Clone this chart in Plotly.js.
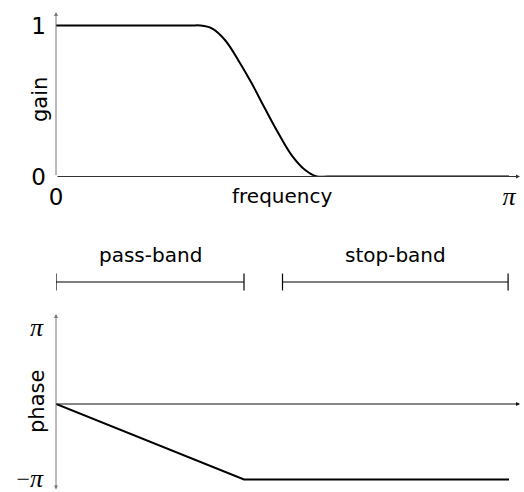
<!DOCTYPE html>
<html>
<head>
<meta charset="utf-8">
<script src="https://cdn.plot.ly/plotly-3.0.1.min.js"></script>
<style>html,body{margin:0;padding:0;background:#fff;}#chart{width:524px;height:492px;}</style>
</head>
<body>
<div id="chart"></div>
<script>
// frequency in units of pi
var gainFreq = [0, 0.15, 0.26, 0.30, 0.318, 0.344, 0.373, 0.402, 0.432, 0.461, 0.491, 0.520, 0.550, 0.576, 0.60, 0.66, 0.80, 1.0];
var gainVals = [1, 1, 1, 1, 1, 0.981, 0.904, 0.772, 0.617, 0.452, 0.286, 0.142, 0.043, 0, 0, 0, 0, 0];
// phase in units of pi
var phaseFreq = [0, 0.415, 1.0];
var phaseVals = [0, -1, -1];
// bands
var bandNames = ['pass-band', 'stop-band'];
var bandStart = [0, 0.5];
var bandEnd = [0.415, 0.998];
// tick labels
var PI = '<span style="font-family:Liberation Serif;font-style:italic;font-size:26px">π</span>';
var MINUS = '<span style="font-family:Liberation Serif;font-size:24px">−</span>';
var gainTickVals = [0, 1];
var gainTickText = ['0', '1'];
var freqTickVals = [0, 1];
var freqTickText = ['0', PI];
var phaseTickVals = [-1, 1];
var phaseTickText = [MINUS + PI, PI];

var SANS = 'DejaVu Sans';
var W = 524, H = 492;
function py(p) { return 1 - p / H; }

var traces = [
  {x: gainFreq, y: gainVals, xaxis: 'x', yaxis: 'y', mode: 'lines',
   line: {color: '#000', width: 2, shape: 'spline', smoothing: 1}, hoverinfo: 'skip'},
  {x: phaseFreq, y: phaseVals, xaxis: 'x2', yaxis: 'y2', mode: 'lines',
   line: {color: '#000', width: 2}, hoverinfo: 'skip'}
];
for (var i = 0; i < bandNames.length; i++) {
  traces.push({x: [bandStart[i], bandEnd[i]], y: [0, 0], xaxis: 'x2', yaxis: 'y3',
    mode: 'lines+markers', line: {color: '#000', width: 1.2},
    marker: {symbol: 'line-ns', size: 12, line: {color: '#000', width: 1.2}}, hoverinfo: 'skip'});
}

var xr = [0, 468 / 453];
var annotations = [];
function arrow(xref, yref, x0, y0, x1, y1, color, both) {
  annotations.push({xref: xref, yref: yref, axref: xref, ayref: yref,
    x: x1, y: y1, ax: x0, ay: y0, text: '', showarrow: true,
    arrowhead: 2, arrowsize: 0.8, arrowwidth: 1, arrowcolor: color,
    arrowside: both ? 'end+start' : 'end', startarrowhead: 2, startarrowsize: 0.8, standoff: 0, startstandoff: 0});
}
arrow('x', 'y', 0, 0, 464 / 453, 0, '#333');
arrow('x', 'y', 0, 0, 0, (176.5 - 12) / 151, '#777');
arrow('x2', 'y2', 0, 0, 464 / 453, 0, '#111');
arrow('x2', 'y2', 0, (404 - 491) / 75.5, 0, (404 - 314) / 75.5, '#777', true);

function label(xref, yref, x, y, text, angle, size) {
  annotations.push({xref: xref, yref: yref, x: x, y: y, text: text, textangle: angle || 0,
    xanchor: 'center', yanchor: 'middle', showarrow: false,
    font: {family: SANS, size: size || 20, color: '#000'}});
}
for (var j = 0; j < bandNames.length; j++) {
  label('x2', 'y3', (bandStart[j] + bandEnd[j]) / 2, 27, bandNames[j]);
}
label('paper', 'paper', 282 / W, py(196), 'frequency');
label('paper', 'paper', 40 / W, py(100), 'gain', -90, 21);
label('paper', 'paper', 37 / W, py(402), 'phase', -90, 21);

var hidden = {showgrid: false, zeroline: false, showline: false, ticks: ''};
var layout = {
  width: W, height: H, margin: {l: 0, r: 0, t: 0, b: 0},
  paper_bgcolor: '#fff', plot_bgcolor: 'rgba(0,0,0,0)', showlegend: false,
  xaxis: Object.assign({}, hidden, {domain: [56 / W, 1], range: xr, anchor: 'y',
    tickvals: freqTickVals, ticktext: freqTickText, ticklabelstandoff: 4,
    tickfont: {family: SANS, size: 23, color: '#000'}}),
  yaxis: Object.assign({}, hidden, {domain: [py(176.5), 1], range: [0, 176.5 / 151], anchor: 'x',
    tickvals: gainTickVals, ticktext: gainTickText, ticklabelstandoff: 9,
    tickfont: {family: SANS, size: 23, color: '#000'}}),
  xaxis2: Object.assign({}, hidden, {domain: [56 / W, 1], range: xr, anchor: 'y2', showticklabels: false}),
  yaxis2: Object.assign({}, hidden, {domain: [0, py(300)], range: [(404 - 492) / 75.5, (404 - 300) / 75.5], anchor: 'x2',
    tickvals: phaseTickVals, ticktext: phaseTickText, ticklabelstandoff: 12, ticklabeloverflow: 'allow',
    tickfont: {family: SANS, size: 22, color: '#000'}}),
  yaxis3: Object.assign({}, hidden, {domain: [py(300), py(210)], range: [-18, 72], anchor: 'x2', showticklabels: false}),
  annotations: annotations
};
Plotly.newPlot('chart', traces, layout, {staticPlot: true, displayModeBar: false});
</script>
</body>
</html>
